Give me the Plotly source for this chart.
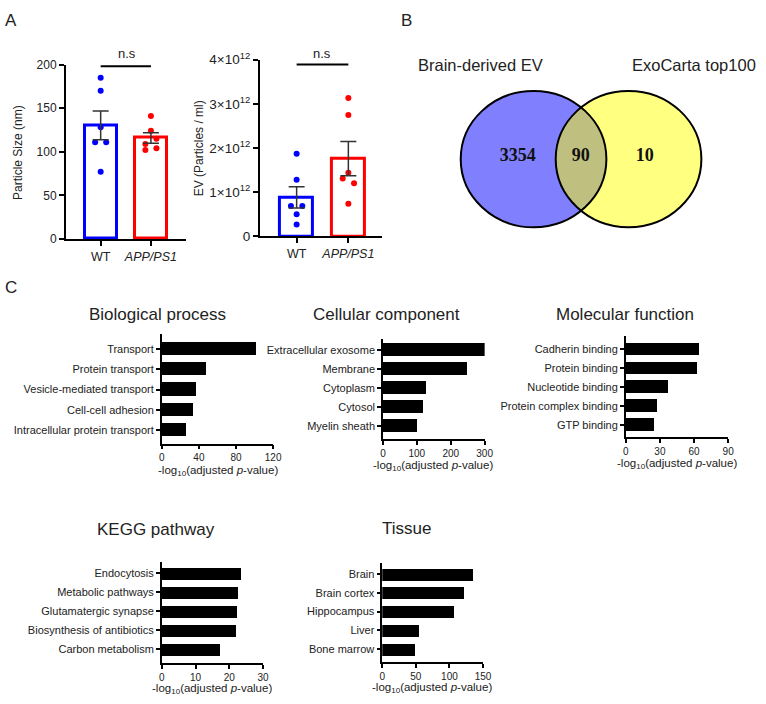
import numpy as np
import plotly.graph_objects as go

# ---------------- data ----------------
groups = ["WT", "APP/PS1"]
size_wt = [185, 170, 128, 111, 111, 77]
size_app = [141, 124, 115, 109, 104, 102]
size_wt_dx = [0, 0, 0, -0.11, 0.11, 0]
size_app_dx = [0, 0, 0.11, -0.11, 0.11, -0.11]

ev_wt = [1.87e12, 1.28e12, 0.69e12, 0.69e12, 0.50e12, 0.27e12]
ev_app = [3.13e12, 2.75e12, 1.44e12, 1.31e12, 1.20e12, 0.74e12]
ev_wt_dx = [0, 0, -0.11, 0.11, 0, 0]
ev_app_dx = [0, 0, 0, -0.11, 0.11, 0]

size_ticks = [0, 50, 100, 150, 200]
ev_ticks = [0, 1e12, 2e12, 3e12, 4e12]
ev_ticktext = ["0", "1×10<sup>12</sup>", "2×10<sup>12</sup>", "3×10<sup>12</sup>", "4×10<sup>12</sup>"]

venn_sets = ["Brain-derived EV", "ExoCarta top100"]
venn_counts = [3354, 90, 10]  # left only, overlap, right only

bp_terms = ["Transport", "Protein transport", "Vesicle-mediated transport",
            "Cell-cell adhesion", "Intracellular protein transport"]
bp_vals = [101, 47, 37, 33, 25.5]
cc_terms = ["Extracellular exosome", "Membrane", "Cytoplasm", "Cytosol", "Myelin sheath"]
cc_vals = [301, 249, 126, 117, 100]
mf_terms = ["Cadherin binding", "Protein binding", "Nucleotide binding",
            "Protein complex binding", "GTP binding"]
mf_vals = [64.5, 62, 36.6, 27.4, 25]
kegg_terms = ["Endocytosis", "Metabolic pathways", "Glutamatergic synapse",
              "Biosynthesis of antibiotics", "Carbon metabolism"]
kegg_vals = [23.3, 22.6, 22.3, 22.0, 17.1]
tis_terms = ["Brain", "Brain cortex", "Hippocampus", "Liver", "Bone marrow"]
tis_vals = [134.7, 121.5, 107, 55.6, 49.8]

# ---------------- layout helpers ----------------
W, H = 766, 704
TXT = "#222222"
FONT = "Liberation Sans, Arial, sans-serif"


def xd(a, b):
    return [a / W, b / W]


def yd(top, bottom):
    return [1 - bottom / H, 1 - top / H]


annotations = []


def ann(text, px, py, size, xanchor="center", yanchor="middle", angle=0, family=FONT, color=TXT):
    annotations.append(dict(text=text, x=px / W, y=1 - py / H, xref="paper", yref="paper",
                            showarrow=False, xanchor=xanchor, yanchor=yanchor, textangle=angle,
                            font=dict(size=size, family=family, color=color)))


fig = go.Figure()


def mean(v):
    return float(np.mean(v))


def sem(v):
    return float(np.std(v, ddof=1) / np.sqrt(len(v)))


# ---------------- Panel A ----------------
def panel_a(ax, vals_list, dx_list, colors):
    xa = "x" if ax == 1 else f"x{ax}"
    ya = "y" if ax == 1 else f"y{ax}"
    for i, (vals, dx, c) in enumerate(zip(vals_list, dx_list, colors)):
        fig.add_trace(go.Bar(x=[i], y=[mean(vals)], width=0.63, xaxis=xa, yaxis=ya,
                             marker=dict(color="white", line=dict(color=c, width=3)),
                             showlegend=False, hoverinfo="skip"))
        fig.add_trace(go.Scatter(x=[i + d for d in dx], y=vals, mode="markers", xaxis=xa, yaxis=ya,
                                 marker=dict(color=c, size=6), showlegend=False))
        fig.add_trace(go.Scatter(x=[i], y=[mean(vals)], mode="markers", xaxis=xa, yaxis=ya,
                                 marker=dict(size=0.1, color="rgba(0,0,0,0)"),
                                 error_y=dict(type="data", array=[sem(vals)], visible=True,
                                              color="#333333", thickness=1.5, width=8),
                                 showlegend=False))


panel_a(1, [size_wt, size_app], [size_wt_dx, size_app_dx], ["#0000FF", "#FF0000"])
panel_a(2, [ev_wt, ev_app], [ev_wt_dx, ev_app_dx], ["#0000FF", "#FF0000"])

# n.s brackets
fig.add_trace(go.Scatter(x=[0, 1], y=[198, 198], mode="lines", xaxis="x", yaxis="y",
                         line=dict(color="black", width=2), showlegend=False))
fig.add_trace(go.Scatter(x=[0, 1], y=[3.89e12, 3.89e12], mode="lines", xaxis="x2", yaxis="y2",
                         line=dict(color="black", width=2), showlegend=False))
ann("n.s", 126, 45, 13)
ann("n.s", 324, 45, 13)

axA = dict(showline=True, linecolor="black", linewidth=2, ticks="outside", ticklen=5,
           tickwidth=2, tickcolor="black", showgrid=False, zeroline=False,
           tickfont=dict(size=12, family=FONT, color=TXT))
xfont = dict(size=12.5, family=FONT, color=TXT)
xtick_text = ["WT", "<i>APP/PS1</i>"]
fig.update_layout(
    xaxis=dict(domain=xd(64, 186), range=[-0.69, 1.70], tickvals=[0, 1], ticktext=xtick_text,
               anchor="y", **{**axA, "tickfont": xfont}),
    yaxis=dict(domain=yd(56, 235), range=[0, 200], tickvals=size_ticks, anchor="x", **axA),
    xaxis2=dict(domain=xd(261, 385), range=[-0.71, 1.65], tickvals=[0, 1], ticktext=xtick_text,
                anchor="y2", **{**axA, "tickfont": xfont}),
    yaxis2=dict(domain=yd(51, 232.3), range=[0, 4e12], tickvals=ev_ticks, ticktext=ev_ticktext,
                anchor="x2", **{**axA, "tickfont": dict(size=13.5, family=FONT, color=TXT)}),
)
ann("Particle Size (nm)", 16, 146, 12, angle=-90)
ann("EV (Particles / ml)", 200, 142, 12, angle=-90)

# ---------------- Panel B (Venn) ----------------
cx1, cx2, cy, rx, ry = 539, 635.5, 153, 74, 70
fig.update_layout(
    xaxis8=dict(domain=xd(455, 722), range=[455, 722], visible=False, anchor="y8"),
    yaxis8=dict(domain=yd(70, 236), range=[236, 70], visible=False, anchor="x8"),
)
shapes = []
shapes.append(dict(type="circle", xref="x8", yref="y8", x0=cx1 - rx, x1=cx1 + rx, y0=cy - ry, y1=cy + ry,
                   fillcolor="#8080FF", line=dict(width=0), layer="below"))
shapes.append(dict(type="circle", xref="x8", yref="y8", x0=cx2 - rx, x1=cx2 + rx, y0=cy - ry, y1=cy + ry,
                   fillcolor="#FFFF80", line=dict(width=0), layer="below"))
half = (cx2 - cx1) / 2
t0 = np.arccos(half / rx)
t = np.linspace(-t0, t0, 60)
px_ = list(cx1 + rx * np.cos(t)) + list(cx2 - rx * np.cos(t[::-1]))
py_ = list(cy + ry * np.sin(t)) + list(cy + ry * np.sin(t[::-1]))
path = "M " + " L ".join(f"{a:.2f},{b:.2f}" for a, b in zip(px_, py_)) + " Z"
shapes.append(dict(type="path", xref="x8", yref="y8", path=path, fillcolor="#BFBF80",
                   line=dict(width=0), layer="below"))
for c in (cx1, cx2):
    shapes.append(dict(type="circle", xref="x8", yref="y8", x0=c - rx, x1=c + rx, y0=cy - ry, y1=cy + ry,
                       fillcolor="rgba(0,0,0,0)", line=dict(color="black", width=2), layer="above"))
fig.add_trace(go.Scatter(x=[523, 587, 652], y=[150, 150, 150], mode="text", xaxis="x8", yaxis="y8",
                         text=[f"<b>{v}</b>" for v in venn_counts],
                         textfont=dict(size=18, family="Liberation Serif, Times New Roman, serif", color="#111"),
                         showlegend=False))
ann(venn_sets[0], 485, 56, 16.5)
ann(venn_sets[1], 702, 56, 16.5)

# ---------------- Panel C ----------------
panels = [
    (3, bp_terms, bp_vals, "Biological process", (161.3, 274.4), (333, 445), [4.67, -0.72], [0, 120],
     [0, 40, 80, 120], (157, 313), (218, 464)),
    (4, cc_terms, cc_vals, "Cellular component", (386, 489.3), (338, 440), [4.67, -0.56], [0, 300],
     [0, 100, 200, 300], (390, 313), (437, 459)),
    (5, mf_terms, mf_vals, "Molecular function", (632.7, 736.7), (335, 438), [4.62, -0.67], [0, 90],
     [0, 30, 60, 90], (632, 313), (685, 457)),
    (6, kegg_terms, kegg_vals, "KEGG pathway", (161.3, 264.2), (566, 670), [4.72, -0.62], [0, 30],
     [0, 10, 20, 30], (155, 533), (212, 688)),
    (7, tis_terms, tis_vals, "Tissue", (385.3, 487.7), (567, 669), [4.68, -0.62], [0, 150],
     [0, 50, 100, 150], (410, 532), (436, 687)),
]
axC = dict(showline=True, linecolor="black", linewidth=1.5, ticks="outside", ticklen=4,
           tickwidth=1.5, tickcolor="black", showgrid=False, zeroline=False)
lay = {}
for (n, terms, vals, title, xdom, ydom, yrange, xrange_, xt, tpos, apos) in panels:
    fig.add_trace(go.Bar(x=vals, y=terms, orientation="h", width=0.65, xaxis=f"x{n}", yaxis=f"y{n}",
                         marker=dict(color="black", line=dict(width=0)), showlegend=False))
    lay[f"xaxis{n}"] = dict(domain=xd(*xdom), range=xrange_, tickvals=xt, anchor=f"y{n}",
                            tickfont=dict(size=10, family=FONT, color=TXT), **axC)
    lay[f"yaxis{n}"] = dict(domain=yd(*ydom), range=yrange, type="category", categoryorder="array",
                            categoryarray=terms, anchor=f"x{n}",
                            tickfont=dict(size=11, family=FONT, color=TXT), **axC)
    ann(title, tpos[0], tpos[1], 17)
    ann("-log<sub>10</sub>(adjusted <i>p</i>-value)", apos[0], apos[1], 11.5, yanchor="top")
fig.update_layout(**lay)

# panel letters
ann("A", 8, 11, 17)
ann("B", 410, 11, 17)
ann("C", 8, 285, 17)

fig.update_layout(width=W, height=H, margin=dict(l=0, r=0, t=0, b=0),
                  paper_bgcolor="white", plot_bgcolor="white", showlegend=False,
                  annotations=annotations, shapes=shapes, bargap=0,
                  font=dict(family=FONT, color=TXT))
fig.write_html("out.html", config={"displayModeBar": False},
               post_script="document.body.style.margin='0';document.body.style.padding='0';"
                           "document.body.style.overflow='hidden';")
